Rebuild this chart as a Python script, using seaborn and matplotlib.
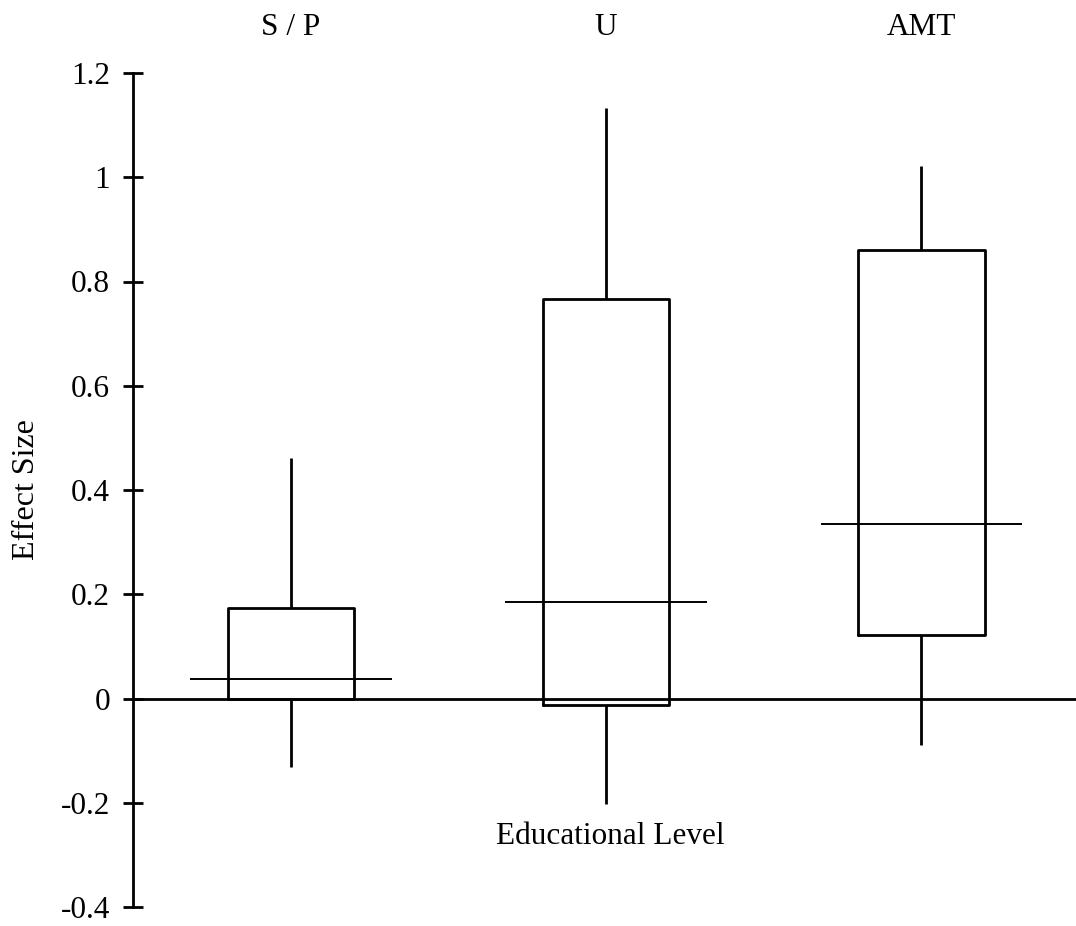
import numpy as np
import pandas as pd
import matplotlib
matplotlib.use("Agg")
import matplotlib.pyplot as plt
import seaborn as sns

# Kategorien und Kennwerte (Min, Q1, Median, Q3, Max) je Bildungsstufe
levels = ["S / P", "U", "AMT"]
lows = [-0.132, -0.203, -0.09]
q1s = [0.0, -0.013, 0.121]
medians = [0.038, 0.186, 0.335]
q3s = [0.174, 0.767, 0.86]
highs = [0.462, 1.133, 1.022]

yticks = [-0.4, -0.2, 0, 0.2, 0.4, 0.6, 0.8, 1, 1.2]
ytick_labels = ["-0.4", "-0.2", "0", "0.2", "0.4", "0.6", "0.8", "1", "1.2"]

# fuenf Punkte je Gruppe -> Quartile und Whisker (0/100 Perzentil) exakt
rows = []
for lev, a, b, c, d, e in zip(levels, lows, q1s, medians, q3s, highs):
    for v in (a, b, c, d, e):
        rows.append({"level": lev, "effect": v})
df = pd.DataFrame(rows)

sns.set_theme(style="white")
plt.rcParams["font.family"] = ["Liberation Serif", "DejaVu Serif"]
plt.rcParams["font.size"] = 22
plt.rcParams["text.color"] = "black"
plt.rcParams["axes.labelcolor"] = "black"
plt.rcParams["xtick.color"] = "black"
plt.rcParams["ytick.color"] = "black"

fig, ax = plt.subplots(figsize=(10.76, 9.26), dpi=100)
fig.subplots_adjust(left=133 / 1076, right=1.0, bottom=19 / 926, top=1 - 73 / 926)

sns.boxplot(
    data=df, x="level", y="effect", order=levels, ax=ax,
    width=0.4, whis=(0, 100), showcaps=False, showfliers=False,
    fill=False, color="black", linewidth=2,
    medianprops={"visible": False},
)

# Medianlinien breiter als die Box
pos = np.arange(len(levels))
ax.hlines(medians, pos - 0.32, pos + 0.32, color="black", linewidth=1.4)

ax.set_xlim(-0.5, 2.49)
ax.set_ylim(-0.4, 1.2)
ax.set_yticks(yticks)
ax.set_yticklabels(ytick_labels)

ax.xaxis.tick_top()
ax.tick_params(axis="x", length=0, pad=22, labelsize=22.5)
ax.tick_params(axis="y", direction="inout", length=15, width=2, pad=9,
               labelsize=22.5, left=True, color="black")

for s in ["top", "right"]:
    ax.spines[s].set_visible(False)
ax.spines["left"].set_linewidth(2)
ax.spines["left"].set_color("black")
ax.spines["bottom"].set_position(("data", 0))
ax.spines["bottom"].set_linewidth(2)
ax.spines["bottom"].set_color("black")

ax.set_ylabel("Effect Size", fontsize=23, labelpad=14)
ax.set_xlabel("Educational Level", fontsize=22.5)
ax.xaxis.set_label_position("bottom")
ax.xaxis.set_label_coords(0.506, 0.102)

fig.savefig("out.png", dpi=100, facecolor="white")
